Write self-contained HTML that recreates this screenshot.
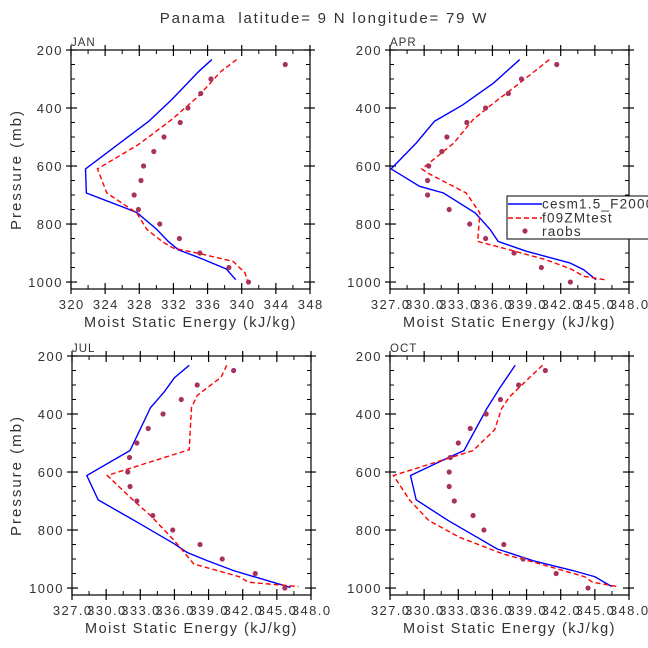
<!DOCTYPE html>
<html><head><meta charset="utf-8"><style>
html,body{margin:0;padding:0;background:#fff;}
svg{display:block;font-family:"Liberation Sans",sans-serif;}
</style></head><body>
<svg id="chart" width="648" height="648" viewBox="0 0 648 648" xmlns="http://www.w3.org/2000/svg">
<text x="324" y="23" text-anchor="middle" font-size="15" letter-spacing="1.8" fill="#333" xml:space="preserve">Panama  latitude= 9 N longitude= 79 W</text>
</svg>
<script>
// ---- data ----
const months = ["JAN","APR","JUL","OCT"];
const obsP = [250,300,350,400,450,500,550,600,650,700,750,800,850,900,950,1000];
const janCesmP = [233,273,371,446,610,693,760,817,860,889,917,955,992];
const janCesmV = [336.5,335.0,331.8,329.1,321.7,321.8,327.7,330.0,331.4,332.6,335.1,338.2,339.3];
const janZmP = [233,273,360,440,526,610,693,762,819,863,883,902,929,969,1000];
const janZmV = [339.4,337.6,334.9,331.8,327.9,323.1,324.2,327.7,328.9,330.8,332.0,335.1,339.0,340.4,340.7];
const janObs = [345.1,336.4,335.2,333.7,332.8,330.9,329.7,328.5,328.2,327.4,327.9,330.4,332.7,335.1,338.5,340.8];
const aprCesmP = [233,314,389,446,521,610,670,693,762,819,860,894,934,957,992];
const aprCesmV = [338.4,336.1,333.4,330.9,329.3,327.1,329.6,331.7,334.5,335.8,336.5,339.0,342.8,344.0,345.1];
const aprZmP = [233,314,383,440,521,610,624,693,762,860,889,923,955,980,992];
const aprZmV = [341.0,338.4,336.1,334.3,332.6,329.8,330.3,333.7,334.9,334.7,337.5,340.7,342.9,344.0,345.9];
const aprObs = [341.65,338.55,337.4,335.4,333.75,332.0,331.55,330.4,330.3,330.3,332.2,334.0,335.4,337.9,340.3,342.85];
const julCesmP = [232,275,324,378,526,612,696,779,848,877,906,940,998];
const julCesmV = [337.3,336.0,335.1,333.9,332.1,328.3,329.3,333.0,336.0,337.1,338.9,341.2,346.2];
const julZmP = [232,273,336,378,523,612,698,750,837,917,961,980,995];
const julZmV = [340.6,340.1,338.0,337.5,337.3,330.1,332.4,333.9,336.0,337.7,341.7,342.5,346.9];
const julObs = [341.2,338.0,336.6,335.0,333.7,332.7,332.05,331.9,332.1,332.7,334.1,335.85,338.25,340.2,343.1,345.7];
const octCesmP = [232,307,382,526,549,612,696,767,865,906,940,961,995];
const octCesmV = [338.0,336.7,335.5,333.5,332.2,328.8,329.3,332.1,336.4,339.6,343.1,345.0,346.5];
const octZmP = [232,273,341,382,454,526,612,698,767,825,882,917,961,980,995];
const octZmV = [340.4,339.3,337.5,336.8,336.2,334.3,327.3,328.75,330.4,333.1,336.9,340.2,344.1,344.8,347.0];
const octObs = [340.65,338.3,336.7,335.45,334.05,333.0,332.3,332.2,332.2,332.65,334.3,335.25,337.0,338.7,341.6,344.4];
const janTicks = [320,324,328,332,336,340,344,348];
const otherTicks = [327,330,333,336,339,342,345,348];
const pTicks = [200,400,600,800,1000];

const NS="http://www.w3.org/2000/svg";
const svg=document.getElementById("chart");
function mk(tag,attrs,parent){const e=document.createElementNS(NS,tag);for(const k in attrs)e.setAttribute(k,attrs[k]);(parent||svg).appendChild(e);return e;}

const panels=[
 {m:"JAN",x0:71,y0:50,xmin:320,xmax:348,ticks:janTicks,fmt:v=>String(v),cP:janCesmP,cV:janCesmV,zP:janZmP,zV:janZmV,o:janObs,ylab:true},
 {m:"APR",x0:390,y0:50,xmin:327,xmax:348,ticks:otherTicks,fmt:v=>v.toFixed(1),cP:aprCesmP,cV:aprCesmV,zP:aprZmP,zV:aprZmV,o:aprObs,ylab:false},
 {m:"JUL",x0:72,y0:356,xmin:327,xmax:348,ticks:otherTicks,fmt:v=>v.toFixed(1),cP:julCesmP,cV:julCesmV,zP:julZmP,zV:julZmV,o:julObs,ylab:true},
 {m:"OCT",x0:390,y0:356,xmin:327,xmax:348,ticks:otherTicks,fmt:v=>v.toFixed(1),cP:octCesmP,cV:octCesmV,zP:octZmP,zV:octZmV,o:octObs,ylab:false}
];
const W=239,PMIN=200,PMAX=1024,H=239;
panels.forEach(pn=>{
  const g=mk("g",{});
  
  
  const xs=v=>pn.x0+(v-pn.xmin)/(pn.xmax-pn.xmin)*W;
  const ys=p=>pn.y0+(p-PMIN)/(PMAX-PMIN)*H;
  const fr=mk("rect",{x:pn.x0,y:pn.y0,width:W,height:H,fill:"none",stroke:"#000","stroke-width":1.2},g);
  
  
  for(let p=250;p<=1000;p+=50){ if(p%200===0) continue;
    mk("line",{x1:pn.x0,x2:pn.x0+4,y1:ys(p),y2:ys(p),stroke:"#000"},g);
    mk("line",{x1:pn.x0+W,x2:pn.x0+W-4,y1:ys(p),y2:ys(p),stroke:"#000"},g);}
  pTicks.forEach(p=>{
    mk("line",{x1:pn.x0-5,x2:pn.x0+6,y1:ys(p),y2:ys(p),stroke:"#000","stroke-width":1.2},g);
    mk("line",{x1:pn.x0+W+5,x2:pn.x0+W-6,y1:ys(p),y2:ys(p),stroke:"#000","stroke-width":1.2},g);
    const t=mk("text",{x:pn.x0-8,y:ys(p)+5,"text-anchor":"end","font-size":"13","letter-spacing":"1.5",fill:"#333"},g);
    t.textContent=p;
    
    
  });
  pn.ticks.forEach(v=>{
    mk("line",{x1:xs(v),x2:xs(v),y1:pn.y0+H+5,y2:pn.y0+H-6,stroke:"#000","stroke-width":1.2},g);
    mk("line",{x1:xs(v),x2:xs(v),y1:pn.y0-5,y2:pn.y0+6,stroke:"#000","stroke-width":1.2},g);
    const t=mk("text",{x:xs(v)+0.7,y:pn.y0+H+20,"text-anchor":"middle","font-size":"13","letter-spacing":"1.4",fill:"#333"},g);
    t.textContent=pn.fmt(v);
    
    
  });
  for(let i=0;i<pn.ticks.length-1;i++){const v=(pn.ticks[i]+pn.ticks[i+1])/2;
    mk("line",{x1:xs(v),x2:xs(v),y1:pn.y0+H,y2:pn.y0+H-4,stroke:"#000"},g);
    mk("line",{x1:xs(v),x2:xs(v),y1:pn.y0,y2:pn.y0+4,stroke:"#000"},g);}
  const ml=mk("text",{x:pn.x0,y:pn.y0-4,"font-size":"11.5","letter-spacing":"1",fill:"#333"},g);
  ml.textContent=pn.m;
  
  
  const xt=mk("text",{x:pn.x0+W/2,y:pn.y0+H+38,"text-anchor":"middle","font-size":"14.5","letter-spacing":"1.5",fill:"#333"},g);
  xt.textContent="Moist Static Energy (kJ/kg)";
  
  
  if(pn.ylab){
    const yt=mk("text",{x:0,y:0,"text-anchor":"middle","font-size":"15","letter-spacing":"2",fill:"#333",transform:`translate(21,${pn.y0+H/2}) rotate(-90)`},g);
    yt.textContent="Pressure (mb)";
    
    
  }
  const pc=mk("polyline",{points:pn.cP.map((p,i)=>xs(pn.cV[i])+","+ys(p)).join(" "),fill:"none",stroke:"#0000ff","stroke-width":1.4},g);
  
  
  const pz=mk("polyline",{points:pn.zP.map((p,i)=>xs(pn.zV[i])+","+ys(p)).join(" "),fill:"none",stroke:"#ff0000","stroke-width":1.4,"stroke-dasharray":"5,3"},g);
  
  
  obsP.forEach((p,i)=>{
    const c=mk("circle",{cx:xs(pn.o[i]),cy:ys(p),r:2.6,fill:"#a8325e"},g);
    
    
  });
});
const lg=mk("g",{});


mk("rect",{x:507,y:196,width:150,height:43,fill:"#fff",stroke:"#000","stroke-width":1},lg);
mk("line",{x1:508,x2:542,y1:204,y2:204,stroke:"#0000ff","stroke-width":1.4},lg);
mk("line",{x1:508,x2:542,y1:218,y2:218,stroke:"#ff0000","stroke-width":1.4,"stroke-dasharray":"5,3"},lg);
mk("circle",{cx:525,cy:231,r:2.6,fill:"#a8325e"},lg);
[["cesm1.5_F2000",208.5],["f09ZMtest",222.5],["raobs",236]].forEach(([s,y])=>{
  const t=mk("text",{x:542,y:y,"font-size":"13.5","letter-spacing":"1.2",fill:"#333"},lg);
  t.textContent=s;
  
  
});
</script>
</body></html>
